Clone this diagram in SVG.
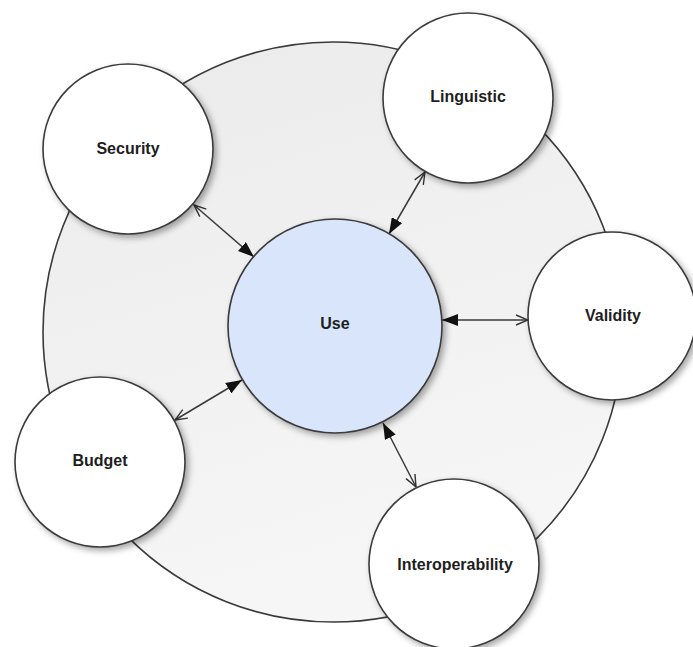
<svg xmlns="http://www.w3.org/2000/svg" width="693" height="647" viewBox="0 0 693 647">
  <defs>
    <linearGradient id="bg" x1="0" y1="0" x2="0.3" y2="1">
      <stop offset="0" stop-color="#ebebeb"/>
      <stop offset="1" stop-color="#f6f6f6"/>
    </linearGradient>
    <filter id="shadow" x="-20%" y="-20%" width="150%" height="150%">
      <feDropShadow dx="3" dy="3" stdDeviation="3" flood-color="#000" flood-opacity="0.35"/>
    </filter>
    <marker id="filled" viewBox="0 0 16 12" refX="16" refY="6" markerWidth="16" markerHeight="12" markerUnits="userSpaceOnUse" orient="auto-start-reverse">
      <path d="M0,0 L16,6 L0,12 Z" fill="#111"/>
    </marker>
    <marker id="open" viewBox="0 0 14 12" refX="13" refY="6" markerWidth="14" markerHeight="12" markerUnits="userSpaceOnUse" orient="auto">
      <path d="M1,1 L13,6 L1,11" fill="none" stroke="#333" stroke-width="1.4"/>
    </marker>
    <style>
      .node circle { fill: #ffffff; stroke: #3a3a3a; stroke-width: 1.6; filter: url(#shadow); }
      .node text { font-family: "Liberation Sans", Arial, sans-serif; font-weight: bold; font-size: 16px; fill: #1e1e1e; text-anchor: middle; }
      .conn line { stroke: #3a3a3a; stroke-width: 1.5; marker-start: url(#filled); marker-end: url(#open); }
    </style>
  </defs>

  <rect width="693" height="647" fill="#ffffff"/>

  <g id="background">
    <circle cx="333" cy="332" r="290" fill="url(#bg)" stroke="#3a3a3a" stroke-width="1.6"/>
  </g>

  <g id="connectors" class="conn">
    <line x1="254" y1="257" x2="194" y2="205"/>
    <line x1="389" y1="234" x2="425" y2="172"/>
    <line x1="442" y1="320" x2="528" y2="320"/>
    <line x1="242" y1="380" x2="175" y2="420"/>
    <line x1="383" y1="423" x2="416" y2="487"/>
  </g>

  <g id="node-use" class="node">
    <circle cx="335" cy="326" r="107" style="fill:#d8e5fb"/>
    <text x="335" y="329">Use</text>
  </g>

  <g id="node-security" class="node">
    <circle cx="128" cy="149" r="85"/>
    <text x="128" y="154">Security</text>
  </g>

  <g id="node-linguistic" class="node">
    <circle cx="468" cy="98" r="85"/>
    <text x="468" y="102">Linguistic</text>
  </g>

  <g id="node-validity" class="node">
    <circle cx="612" cy="316" r="84"/>
    <text x="613" y="321">Validity</text>
  </g>

  <g id="node-budget" class="node">
    <circle cx="100" cy="462" r="85"/>
    <text x="100" y="466">Budget</text>
  </g>

  <g id="node-interoperability" class="node">
    <circle cx="454" cy="564" r="85"/>
    <text x="455" y="570">Interoperability</text>
  </g>
</svg>
